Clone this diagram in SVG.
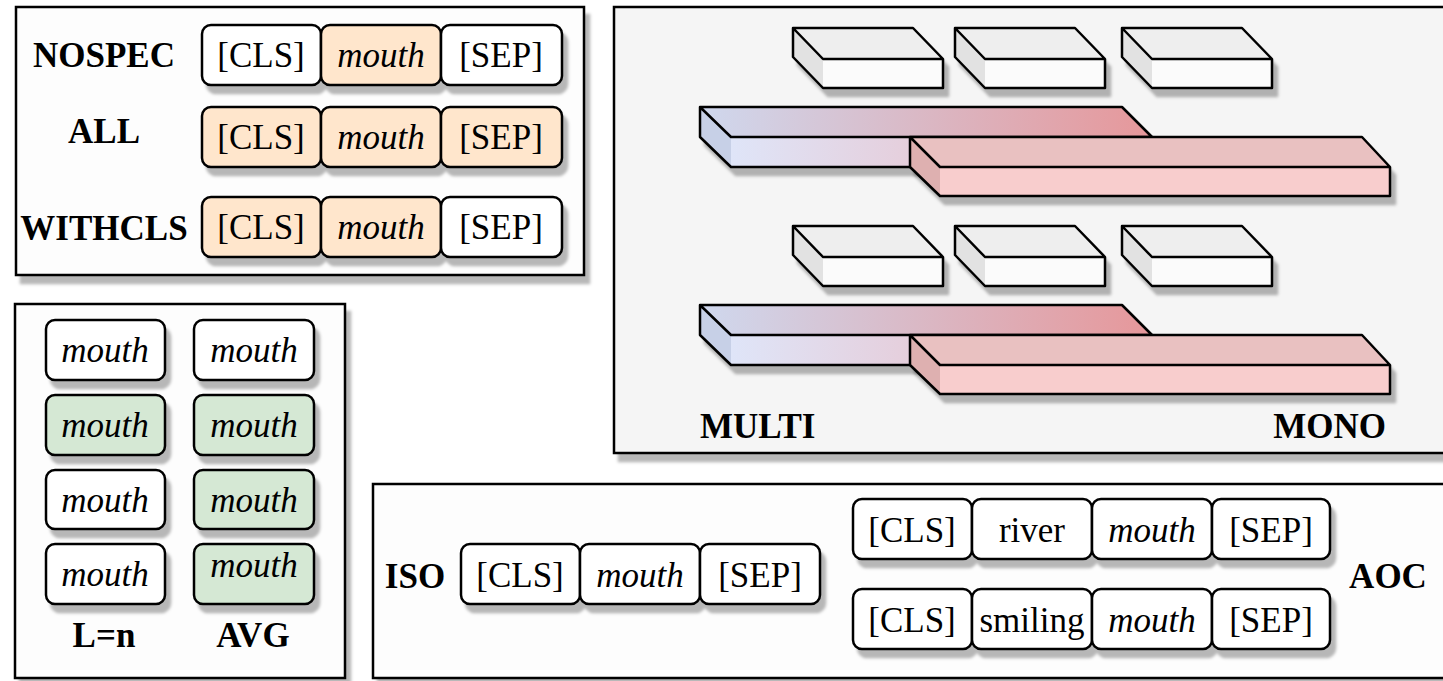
<svg xmlns="http://www.w3.org/2000/svg" width="1443" height="681" viewBox="0 0 1443 681">
<defs>
<filter id="sh" x="-10%" y="-10%" width="130%" height="140%">
<feDropShadow dx="5" dy="8" stdDeviation="1.5" flood-color="#000" flood-opacity="0.28"/>
</filter>
<linearGradient id="gTop" gradientUnits="userSpaceOnUse" x1="700" y1="0" x2="1152" y2="0">
<stop offset="0" stop-color="#cfd8ee"/><stop offset="1" stop-color="#e6979a"/>
</linearGradient>
<linearGradient id="gFront" gradientUnits="userSpaceOnUse" x1="731" y1="0" x2="1152" y2="0">
<stop offset="0" stop-color="#dfe5f8"/><stop offset="1" stop-color="#eeb0b6"/>
</linearGradient>
<g id="smallBox">
<polygon points="0,0 120,0 150,31 30,31" fill="#eeeeee"/>
<polygon points="0,0 30,31 30,60 0,29" fill="#e2e2e2"/>
<rect x="30" y="31" width="119" height="29" fill="#fbfbfb"/>
<path d="M0,0 H120 L150,31 V60 H30 L0,29 Z M0,0 L30,31 H150" fill="none" stroke="#000" stroke-width="2.5" stroke-linejoin="round"/>
</g>
<g id="bars">
<g filter="url(#sh)">
<polygon points="700,107 1122,107 1152,137 731,137" fill="url(#gTop)"/>
<polygon points="700,107 731,137 731,167 700,137" fill="#c7d0e7"/>
<rect x="731" y="137" width="421" height="30" fill="url(#gFront)"/>
<path d="M700,107 H1122 L1152,137 V167 H731 L700,137 Z M700,107 L731,137 H1152" fill="none" stroke="#000" stroke-width="2.5" stroke-linejoin="round"/>
</g>
<g filter="url(#sh)">
<polygon points="910,137 1362,137 1390,167 940,167" fill="#e9c1c1"/>
<polygon points="910,137 940,167 940,196 910,167" fill="#deb0b0"/>
<rect x="940" y="167" width="450" height="29" fill="#f8cdcd"/>
<path d="M910,137 H1362 L1390,167 V196 H940 L910,167 Z M910,137 L940,167 H1390" fill="none" stroke="#000" stroke-width="2.5" stroke-linejoin="round"/>
</g>
</g>
</defs>
<style>
.panel{stroke:#000;stroke-width:2.5;}
.tok{stroke:#000;stroke-width:2.5;}
.w{fill:#ffffff;}
.o{fill:#ffe6cc;}
.g{fill:#d5e8d4;}
text{font-family:"Liberation Serif","Times New Roman",serif;font-size:35px;fill:#000;text-anchor:middle;}
.b{font-weight:bold;}
.i{font-style:italic;}
</style>

<!-- Panel 1 -->
<g id="panel-spec">
<rect class="panel" x="16" y="7" width="568" height="268" fill="#fdfdfd" filter="url(#sh)"/>
<text class="b" x="104" y="67">NOSPEC</text>
<text class="b" x="104" y="143">ALL</text>
<text class="b" x="104" y="240">WITHCLS</text>
</g>
<g id="row-nospec" filter="url(#sh)">
<rect class="tok w" x="202" y="25" width="119" height="60" rx="9"/>
<rect class="tok o" x="321" y="25" width="120" height="60" rx="9"/>
<rect class="tok w" x="441" y="25" width="121" height="60" rx="9"/>
</g>
<g id="row-nospec-text">
<text x="261" y="67">[CLS]</text><text class="i" x="381" y="67">mouth</text><text x="501" y="67">[SEP]</text>
</g>
<g id="row-all" filter="url(#sh)">
<rect class="tok o" x="202" y="107" width="119" height="60" rx="9"/>
<rect class="tok o" x="321" y="107" width="120" height="60" rx="9"/>
<rect class="tok o" x="441" y="107" width="121" height="60" rx="9"/>
</g>
<g id="row-all-text">
<text x="261" y="149">[CLS]</text><text class="i" x="381" y="149">mouth</text><text x="501" y="149">[SEP]</text>
</g>
<g id="row-withcls" filter="url(#sh)">
<rect class="tok o" x="202" y="197" width="119" height="60" rx="9"/>
<rect class="tok o" x="321" y="197" width="120" height="60" rx="9"/>
<rect class="tok w" x="441" y="197" width="121" height="60" rx="9"/>
</g>
<g id="row-withcls-text">
<text x="261" y="239">[CLS]</text><text class="i" x="381" y="239">mouth</text><text x="501" y="239">[SEP]</text>
</g>

<!-- Panel 2 -->
<g id="panel-layers">
<rect class="panel" x="15" y="304" width="330" height="374" fill="#fdfdfd" filter="url(#sh)"/>
<g filter="url(#sh)">
<rect class="tok w" x="46" y="320" width="119" height="60" rx="9"/>
<rect class="tok g" x="46" y="395" width="119" height="60" rx="9"/>
<rect class="tok w" x="46" y="470" width="119" height="59" rx="9"/>
<rect class="tok w" x="46" y="544" width="119" height="60" rx="9"/>
<rect class="tok w" x="194" y="320" width="120" height="60" rx="9"/>
<rect class="tok g" x="194" y="395" width="120" height="60" rx="9"/>
<rect class="tok g" x="194" y="470" width="120" height="59" rx="9"/>
<rect class="tok g" x="194" y="544" width="120" height="60" rx="9"/>
</g>
<text class="i" x="105" y="362">mouth</text>
<text class="i" x="105" y="437">mouth</text>
<text class="i" x="105" y="512">mouth</text>
<text class="i" x="105" y="586">mouth</text>
<text class="i" x="254" y="362">mouth</text>
<text class="i" x="254" y="437">mouth</text>
<text class="i" x="254" y="512">mouth</text>
<text class="i" x="254" y="577">mouth</text>
<text class="b" x="104" y="647">L=n</text>
<text class="b" x="253" y="647">AVG</text>
</g>

<!-- Panel 3 -->
<g id="panel-models">
<rect class="panel" x="614" y="7" width="840" height="446" fill="#f5f5f5" filter="url(#sh)"/>
<g filter="url(#sh)">
<use href="#smallBox" x="793" y="28"/>
<use href="#smallBox" x="955" y="28"/>
<use href="#smallBox" x="1122" y="28"/>
</g>
<use href="#bars"/>
<g filter="url(#sh)">
<use href="#smallBox" x="793" y="226"/>
<use href="#smallBox" x="955" y="226"/>
<use href="#smallBox" x="1122" y="226"/>
</g>
<use href="#bars" y="198"/>
<text class="b" x="700" y="438" style="text-anchor:start">MULTI</text>
<text class="b" x="1386" y="438" style="text-anchor:end">MONO</text>
</g>

<!-- Panel 4 -->
<g id="panel-context">
<rect class="panel" x="373" y="484" width="1080" height="194" fill="#fdfdfd" filter="url(#sh)"/>
<text class="b" x="415" y="588">ISO</text>
<text class="b" x="1388" y="588">AOC</text>
</g>
<g id="row-iso">
<g filter="url(#sh)">
<rect class="tok w" x="461" y="544" width="119" height="60" rx="9"/>
<rect class="tok w" x="580" y="544" width="120" height="60" rx="9"/>
<rect class="tok w" x="700" y="544" width="120" height="60" rx="9"/>
</g>
<text x="520" y="587">[CLS]</text><text class="i" x="640" y="587">mouth</text><text x="760" y="587">[SEP]</text>
</g>
<g id="row-aoc1">
<g filter="url(#sh)">
<rect class="tok w" x="853" y="499" width="119" height="60" rx="9"/>
<rect class="tok w" x="972" y="499" width="120" height="60" rx="9"/>
<rect class="tok w" x="1092" y="499" width="120" height="60" rx="9"/>
<rect class="tok w" x="1212" y="499" width="118" height="60" rx="9"/>
</g>
<text x="912" y="542">[CLS]</text><text x="1032" y="542">river</text><text class="i" x="1152" y="542">mouth</text><text x="1271" y="542">[SEP]</text>
</g>
<g id="row-aoc2">
<g filter="url(#sh)">
<rect class="tok w" x="853" y="589" width="119" height="60" rx="9"/>
<rect class="tok w" x="972" y="589" width="120" height="60" rx="9"/>
<rect class="tok w" x="1092" y="589" width="120" height="60" rx="9"/>
<rect class="tok w" x="1212" y="589" width="118" height="60" rx="9"/>
</g>
<text x="912" y="632">[CLS]</text><text x="1032" y="632">smiling</text><text class="i" x="1152" y="632">mouth</text><text x="1271" y="632">[SEP]</text>
</g>
<g id="connectors"/>
</svg>
